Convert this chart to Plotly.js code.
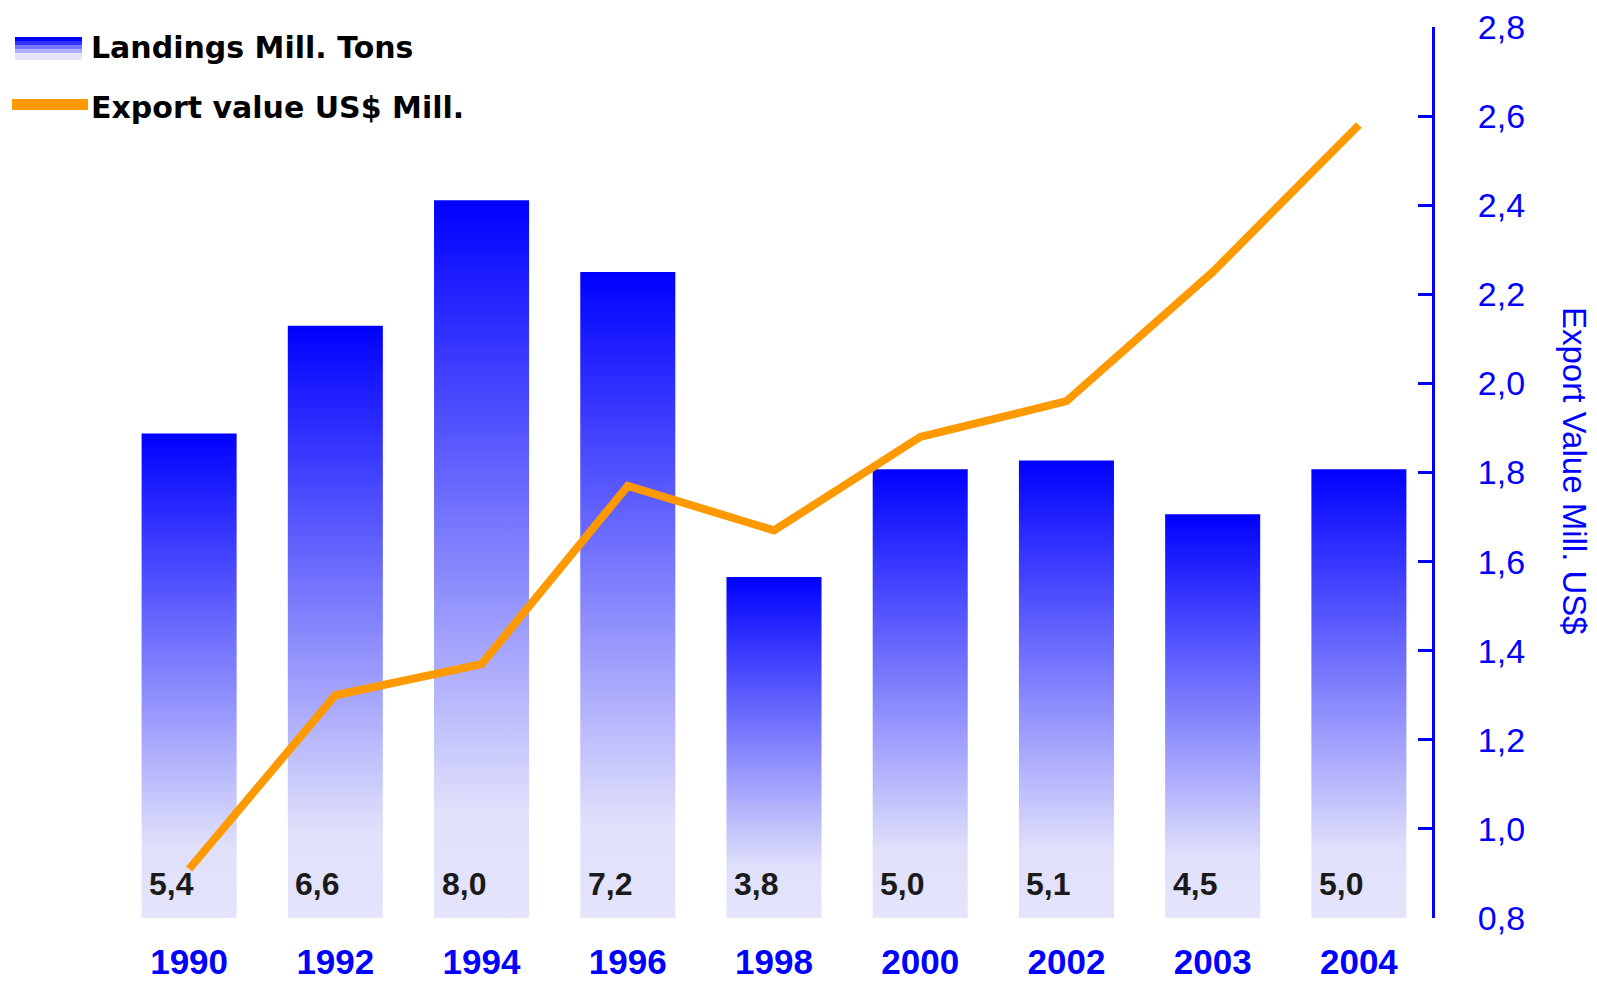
<!DOCTYPE html>
<html><head><meta charset="utf-8">
<script src="https://cdn.plot.ly/plotly-3.0.1.min.js"></script>
<style>html,body{margin:0;padding:0;background:#fff;} #chart{width:1597px;height:984px;}</style>
</head><body><div id="chart"></div>
<script>
// ---- data ----
const years = ['1990','1992','1994','1996','1998','2000','2002','2003','2004'];
const landings = [5.4, 6.6, 8.0, 7.2, 3.8, 5.0, 5.1, 4.5, 5.0];
const landingLabels = ['5,4','6,6','8,0','7,2','3,8','5,0','5,1','4,5','5,0'];
const exportValue = [0.91, 1.30, 1.37, 1.77, 1.67, 1.88, 1.96, 2.25, 2.58];
const y2TickVals = [0.8, 1.0, 1.2, 1.4, 1.6, 1.8, 2.0, 2.2, 2.4, 2.6, 2.8];
const y2TickText = ['0,8','1,0','1,2','1,4','1,6','1,8','2,0','2,2','2,4','2,6','2,8'];
const legendNames = ['Landings Mill. Tons', 'Export value US$ Mill.'];
const y2Title = 'Export Value Mill. US$';

// ---- geometry / style ----
const W = 1597, H = 984;
const M = {l:116, r:165, t:27, b:66};
const PW = W - M.l - M.r, PH = H - M.t - M.b;
const px2x = p => (p - M.l) / PW;
const py2y = p => (H - M.b - p) / PH;
const FONT = 'Liberation Sans, Arial, sans-serif';
const WIDEFONT = 'DejaVu Sans, Liberation Sans, sans-serif';
const BLUE = '#0000FF';
const ORANGE = '#FF9900';

const bars = {
  type: 'bar', x: years, y: landings, yaxis: 'y',
  marker: {color: '#8080FF', line: {width: 0}},
  hoverinfo: 'skip', name: legendNames[0]
};
const line = {
  type: 'scatter', mode: 'lines', x: years, y: exportValue, yaxis: 'y2',
  line: {color: ORANGE, width: 8}, name: legendNames[1], hoverinfo: 'skip'
};

const annotations = years.map((yr, i) => ({
  x: i, y: 0, xref: 'x', yref: 'y', text: landingLabels[i], showarrow: false,
  xanchor: 'left', yanchor: 'bottom', xshift: -42, yshift: 14,
  font: {family: FONT, size: 32, color: '#1a1a1a', weight: 'bold'}
}));
annotations.push(
  {xref:'paper', yref:'paper', x: px2x(89), y: py2y(47), text: legendNames[0], showarrow:false,
   xanchor:'left', yanchor:'middle', font:{family: WIDEFONT, size: 30, color:'#000', weight: 'bold'}},
  {xref:'paper', yref:'paper', x: px2x(89), y: py2y(107), text: legendNames[1], showarrow:false,
   xanchor:'left', yanchor:'middle', font:{family: WIDEFONT, size: 30, color:'#000', weight: 'bold'}},
  {xref:'paper', yref:'paper', x: px2x(1574), y: py2y(471), text: y2Title, showarrow:false,
   textangle: 90, xanchor:'center', yanchor:'middle', font:{family: FONT, size: 33, color: BLUE}}
);

const bandColors = ['#0000FF', '#3333FF', '#7777FF', '#AFAFFF', '#E4E4FC'];
const bandEdges = [37, 41, 45, 49, 53, 60];
const shapes = bandColors.map((c, i) => ({
  type:'rect', xref:'paper', yref:'paper', x0: px2x(15), x1: px2x(82),
  y0: py2y(bandEdges[i]), y1: py2y(bandEdges[i+1]), fillcolor: c, line:{width:0}
}));
shapes.push({type:'line', xref:'paper', yref:'paper', x0: px2x(12), x1: px2x(88),
  y0: py2y(104.5), y1: py2y(104.5), line:{color: ORANGE, width: 11}});

const layout = {
  width: W, height: H, margin: M,
  paper_bgcolor: '#ffffff', plot_bgcolor: '#ffffff',
  showlegend: false, bargap: 0.35,
  font: {family: FONT},
  xaxis: {type:'category', range:[-0.5, years.length - 0.5], autorange:false,
    showline:false, ticks:'', showgrid:false, zeroline:false,
    tickfont:{family: FONT, size: 35, color: BLUE, weight: 'bold'}, ticklabelstandoff: 20},
  yaxis: {range:[0, 9.93], visible:false, showgrid:false, zeroline:false},
  yaxis2: {overlaying:'y', side:'right', range:[0.8, 2.8], showline:true, linecolor: BLUE, linewidth:3,
    ticks:'inside', ticklen:14, tickwidth:3, tickcolor: BLUE, tickvals: y2TickVals, ticktext: y2TickText,
    tickfont:{family: FONT, size: 34, color: BLUE}, showgrid:false, zeroline:false, ticklabelstandoff: 36},
  annotations: annotations, shapes: shapes
};

const gd = document.getElementById('chart');
const NS = 'http://www.w3.org/2000/svg';
function applyGradient(){
  const svg = gd.querySelector('svg.main-svg');
  if(!svg) return;
  if(!svg.querySelector('#barGrad')){
    const defs = document.createElementNS(NS, 'defs');
    const lg = document.createElementNS(NS, 'linearGradient');
    lg.setAttribute('id', 'barGrad');
    lg.setAttribute('x1','0'); lg.setAttribute('y1','0'); lg.setAttribute('x2','0'); lg.setAttribute('y2','1');
    [[0,'#0000FF'],[0.85,'#E0E0FB'],[1,'#E4E4FC']].forEach(([o,c]) => {
      const s = document.createElementNS(NS, 'stop');
      s.setAttribute('offset', o); s.setAttribute('stop-color', c);
      lg.appendChild(s);
    });
    defs.appendChild(lg);
    svg.insertBefore(defs, svg.firstChild);
  }
  gd.querySelectorAll('.barlayer .point path').forEach(p => { p.style.fill = 'url(#barGrad)'; });
}
Plotly.newPlot(gd, [bars, line], layout, {displayModeBar:false, staticPlot:true}).then(() => {
  applyGradient();
  gd.on('plotly_afterplot', applyGradient);
});
</script>
</body></html>
